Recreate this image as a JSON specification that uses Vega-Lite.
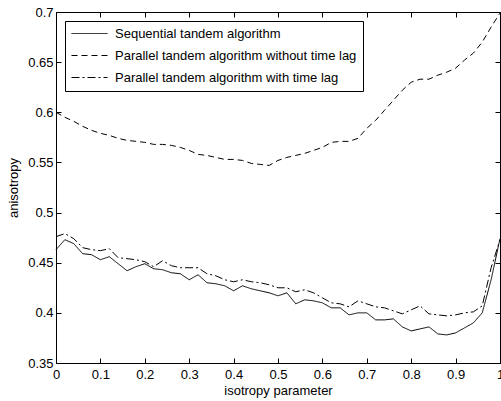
{
  "$schema": "https://vega.github.io/schema/vega-lite/v6.json",
  "width": 444,
  "height": 351,
  "autosize": "none",
  "padding": {"left": 56, "top": 12, "right": 1, "bottom": 38},
  "background": "white",
  "config": {
    "font": "Liberation Sans",
    "view": {"stroke": "black", "strokeWidth": 1},
    "axis": {
      "domainColor": "black", "tickColor": "black", "labelColor": "black", "titleColor": "black",
      "labelFontSize": 13, "titleFontSize": 13, "titleFontWeight": "normal",
      "grid": false, "tickSize": -5, "domainWidth": 1, "tickWidth": 1
    },
    "legend": {
      "orient": "top-left", "offset": 9, "strokeColor": "black", "fillColor": "white",
      "padding": 6, "symbolType": "stroke", "symbolSize": 1296, "symbolStrokeWidth": 1,
      "symbolStrokeColor": "black", "labelFontSize": 13, "labelColor": "black", "labelOffset": 7,
      "labelLimit": 0, "clipHeight": 13, "rowPadding": 8
    }
  },
  "data": {"values": [
    {"x": 0, "Sequential tandem algorithm": 0.463, "Parallel tandem algorithm without time lag": 0.600, "Parallel tandem algorithm with time lag": 0.476},
    {"x": 0.02, "Sequential tandem algorithm": 0.473, "Parallel tandem algorithm without time lag": 0.595, "Parallel tandem algorithm with time lag": 0.479},
    {"x": 0.04, "Sequential tandem algorithm": 0.469, "Parallel tandem algorithm without time lag": 0.591, "Parallel tandem algorithm with time lag": 0.474},
    {"x": 0.06, "Sequential tandem algorithm": 0.459, "Parallel tandem algorithm without time lag": 0.586, "Parallel tandem algorithm with time lag": 0.465},
    {"x": 0.08, "Sequential tandem algorithm": 0.458, "Parallel tandem algorithm without time lag": 0.582, "Parallel tandem algorithm with time lag": 0.463},
    {"x": 0.10, "Sequential tandem algorithm": 0.453, "Parallel tandem algorithm without time lag": 0.579, "Parallel tandem algorithm with time lag": 0.462},
    {"x": 0.12, "Sequential tandem algorithm": 0.456, "Parallel tandem algorithm without time lag": 0.577, "Parallel tandem algorithm with time lag": 0.464},
    {"x": 0.14, "Sequential tandem algorithm": 0.449, "Parallel tandem algorithm without time lag": 0.574, "Parallel tandem algorithm with time lag": 0.455},
    {"x": 0.16, "Sequential tandem algorithm": 0.442, "Parallel tandem algorithm without time lag": 0.572, "Parallel tandem algorithm with time lag": 0.454},
    {"x": 0.18, "Sequential tandem algorithm": 0.446, "Parallel tandem algorithm without time lag": 0.571, "Parallel tandem algorithm with time lag": 0.453},
    {"x": 0.20, "Sequential tandem algorithm": 0.449, "Parallel tandem algorithm without time lag": 0.570, "Parallel tandem algorithm with time lag": 0.451},
    {"x": 0.22, "Sequential tandem algorithm": 0.444, "Parallel tandem algorithm without time lag": 0.568, "Parallel tandem algorithm with time lag": 0.446},
    {"x": 0.24, "Sequential tandem algorithm": 0.443, "Parallel tandem algorithm without time lag": 0.568, "Parallel tandem algorithm with time lag": 0.452},
    {"x": 0.26, "Sequential tandem algorithm": 0.440, "Parallel tandem algorithm without time lag": 0.567, "Parallel tandem algorithm with time lag": 0.447},
    {"x": 0.28, "Sequential tandem algorithm": 0.439, "Parallel tandem algorithm without time lag": 0.565, "Parallel tandem algorithm with time lag": 0.445},
    {"x": 0.30, "Sequential tandem algorithm": 0.433, "Parallel tandem algorithm without time lag": 0.562, "Parallel tandem algorithm with time lag": 0.445},
    {"x": 0.32, "Sequential tandem algorithm": 0.438, "Parallel tandem algorithm without time lag": 0.558, "Parallel tandem algorithm with time lag": 0.445},
    {"x": 0.34, "Sequential tandem algorithm": 0.430, "Parallel tandem algorithm without time lag": 0.557, "Parallel tandem algorithm with time lag": 0.439},
    {"x": 0.36, "Sequential tandem algorithm": 0.429, "Parallel tandem algorithm without time lag": 0.555, "Parallel tandem algorithm with time lag": 0.437},
    {"x": 0.38, "Sequential tandem algorithm": 0.427, "Parallel tandem algorithm without time lag": 0.553, "Parallel tandem algorithm with time lag": 0.433},
    {"x": 0.40, "Sequential tandem algorithm": 0.422, "Parallel tandem algorithm without time lag": 0.553, "Parallel tandem algorithm with time lag": 0.431},
    {"x": 0.42, "Sequential tandem algorithm": 0.427, "Parallel tandem algorithm without time lag": 0.552, "Parallel tandem algorithm with time lag": 0.433},
    {"x": 0.44, "Sequential tandem algorithm": 0.424, "Parallel tandem algorithm without time lag": 0.549, "Parallel tandem algorithm with time lag": 0.431},
    {"x": 0.46, "Sequential tandem algorithm": 0.422, "Parallel tandem algorithm without time lag": 0.548, "Parallel tandem algorithm with time lag": 0.430},
    {"x": 0.48, "Sequential tandem algorithm": 0.420, "Parallel tandem algorithm without time lag": 0.547, "Parallel tandem algorithm with time lag": 0.428},
    {"x": 0.50, "Sequential tandem algorithm": 0.417, "Parallel tandem algorithm without time lag": 0.552, "Parallel tandem algorithm with time lag": 0.425},
    {"x": 0.52, "Sequential tandem algorithm": 0.420, "Parallel tandem algorithm without time lag": 0.555, "Parallel tandem algorithm with time lag": 0.425},
    {"x": 0.54, "Sequential tandem algorithm": 0.409, "Parallel tandem algorithm without time lag": 0.557, "Parallel tandem algorithm with time lag": 0.421},
    {"x": 0.56, "Sequential tandem algorithm": 0.413, "Parallel tandem algorithm without time lag": 0.559, "Parallel tandem algorithm with time lag": 0.423},
    {"x": 0.58, "Sequential tandem algorithm": 0.412, "Parallel tandem algorithm without time lag": 0.562, "Parallel tandem algorithm with time lag": 0.420},
    {"x": 0.60, "Sequential tandem algorithm": 0.410, "Parallel tandem algorithm without time lag": 0.565, "Parallel tandem algorithm with time lag": 0.415},
    {"x": 0.62, "Sequential tandem algorithm": 0.405, "Parallel tandem algorithm without time lag": 0.570, "Parallel tandem algorithm with time lag": 0.410},
    {"x": 0.64, "Sequential tandem algorithm": 0.405, "Parallel tandem algorithm without time lag": 0.571, "Parallel tandem algorithm with time lag": 0.409},
    {"x": 0.66, "Sequential tandem algorithm": 0.398, "Parallel tandem algorithm without time lag": 0.571, "Parallel tandem algorithm with time lag": 0.406},
    {"x": 0.68, "Sequential tandem algorithm": 0.400, "Parallel tandem algorithm without time lag": 0.574, "Parallel tandem algorithm with time lag": 0.412},
    {"x": 0.70, "Sequential tandem algorithm": 0.400, "Parallel tandem algorithm without time lag": 0.584, "Parallel tandem algorithm with time lag": 0.409},
    {"x": 0.72, "Sequential tandem algorithm": 0.393, "Parallel tandem algorithm without time lag": 0.592, "Parallel tandem algorithm with time lag": 0.406},
    {"x": 0.74, "Sequential tandem algorithm": 0.393, "Parallel tandem algorithm without time lag": 0.602, "Parallel tandem algorithm with time lag": 0.405},
    {"x": 0.76, "Sequential tandem algorithm": 0.394, "Parallel tandem algorithm without time lag": 0.612, "Parallel tandem algorithm with time lag": 0.402},
    {"x": 0.78, "Sequential tandem algorithm": 0.386, "Parallel tandem algorithm without time lag": 0.622, "Parallel tandem algorithm with time lag": 0.399},
    {"x": 0.80, "Sequential tandem algorithm": 0.382, "Parallel tandem algorithm without time lag": 0.630, "Parallel tandem algorithm with time lag": 0.403},
    {"x": 0.82, "Sequential tandem algorithm": 0.384, "Parallel tandem algorithm without time lag": 0.633, "Parallel tandem algorithm with time lag": 0.407},
    {"x": 0.84, "Sequential tandem algorithm": 0.386, "Parallel tandem algorithm without time lag": 0.633, "Parallel tandem algorithm with time lag": 0.399},
    {"x": 0.86, "Sequential tandem algorithm": 0.379, "Parallel tandem algorithm without time lag": 0.637, "Parallel tandem algorithm with time lag": 0.398},
    {"x": 0.88, "Sequential tandem algorithm": 0.378, "Parallel tandem algorithm without time lag": 0.640, "Parallel tandem algorithm with time lag": 0.397},
    {"x": 0.90, "Sequential tandem algorithm": 0.380, "Parallel tandem algorithm without time lag": 0.644, "Parallel tandem algorithm with time lag": 0.398},
    {"x": 0.92, "Sequential tandem algorithm": 0.385, "Parallel tandem algorithm without time lag": 0.652, "Parallel tandem algorithm with time lag": 0.400},
    {"x": 0.94, "Sequential tandem algorithm": 0.390, "Parallel tandem algorithm without time lag": 0.659, "Parallel tandem algorithm with time lag": 0.401},
    {"x": 0.96, "Sequential tandem algorithm": 0.400, "Parallel tandem algorithm without time lag": 0.670, "Parallel tandem algorithm with time lag": 0.407},
    {"x": 0.98, "Sequential tandem algorithm": 0.433, "Parallel tandem algorithm without time lag": 0.685, "Parallel tandem algorithm with time lag": 0.445},
    {"x": 1.00, "Sequential tandem algorithm": 0.474, "Parallel tandem algorithm without time lag": 0.699, "Parallel tandem algorithm with time lag": 0.473}
  ]},
  "transform": [
    {"fold": ["Sequential tandem algorithm", "Parallel tandem algorithm without time lag", "Parallel tandem algorithm with time lag"], "as": ["series", "value"]}
  ],
  "layer": [
    {
      "mark": {"type": "line", "color": "black", "strokeWidth": 1},
      "encoding": {
        "x": {"field": "x", "type": "quantitative",
              "scale": {"domain": [0, 1], "nice": false, "zero": false},
              "axis": {"orient": "bottom", "values": [0, 0.1, 0.2, 0.3, 0.4, 0.5, 0.6, 0.7, 0.8, 0.9, 1], "format": ".1~f",
                       "title": "isotropy parameter", "labelPadding": 10, "titlePadding": 3, "labelFlush": false}},
        "y": {"field": "value", "type": "quantitative",
              "scale": {"domain": [0.35, 0.7], "nice": false, "zero": false},
              "axis": {"orient": "left", "values": [0.35, 0.4, 0.45, 0.5, 0.55, 0.6, 0.65, 0.7], "format": ".2~f",
                       "title": "anisotropy", "labelPadding": 8, "titlePadding": 7, "labelFlush": false}},
        "strokeDash": {"field": "series", "type": "nominal",
                       "scale": {"domain": ["Sequential tandem algorithm", "Parallel tandem algorithm without time lag", "Parallel tandem algorithm with time lag"],
                                 "range": [[1, 0], [6, 4], [8, 3, 2, 3]]},
                       "legend": {"title": null}}
      }
    },
    {
      "mark": {"type": "line", "opacity": 0},
      "encoding": {
        "x": {"field": "x", "type": "quantitative",
              "axis": {"orient": "top", "values": [0, 0.1, 0.2, 0.3, 0.4, 0.5, 0.6, 0.7, 0.8, 0.9, 1], "labels": false, "title": null}},
        "y": {"field": "value", "type": "quantitative",
              "axis": {"orient": "right", "values": [0.35, 0.4, 0.45, 0.5, 0.55, 0.6, 0.65, 0.7], "labels": false, "title": null}},
        "detail": {"field": "series", "type": "nominal"}
      }
    }
  ],
  "resolve": {"axis": {"x": "independent", "y": "independent"}}
}
